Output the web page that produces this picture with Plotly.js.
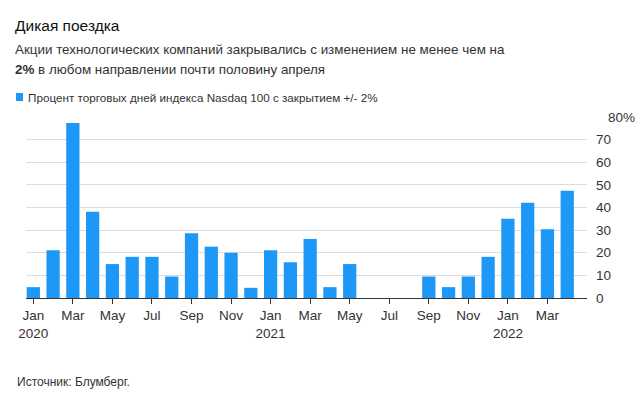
<!DOCTYPE html>
<html>
<head>
<meta charset="utf-8">
<script src="https://cdn.plot.ly/plotly-3.0.1.min.js"></script>
<style>
html,body{margin:0;padding:0;background:#fff;}
#chart{width:644px;height:396px;}
</style>
</head>
<body>
<div id="chart"></div>
<script>
const months = ["2020-01","2020-02","2020-03","2020-04","2020-05","2020-06","2020-07","2020-08","2020-09","2020-10","2020-11","2020-12",
"2021-01","2021-02","2021-03","2021-04","2021-05","2021-06","2021-07","2021-08","2021-09","2021-10","2021-11","2021-12",
"2022-01","2022-02","2022-03","2022-04"];
const pctDays = [4.8,21.1,77.3,38.1,15.0,18.2,18.2,9.5,28.6,22.7,20.0,4.5,
21.1,15.8,26.1,4.8,15.0,0,0,0,9.5,4.8,9.5,18.2,
35.0,42.1,30.4,47.4];
const xTickVals = ["2020-01","2020-03","2020-05","2020-07","2020-09","2020-11","2021-01","2021-03","2021-05","2021-07","2021-09","2021-11","2022-01","2022-03"];
const xTickText = ["Jan<br>2020","Mar","May","Jul","Sep","Nov","Jan<br>2021","Mar","May","Jul","Sep","Nov","Jan<br>2022","Mar"];
const yTickVals = [0,10,20,30,40,50,60,70,80];
const yTickText = ["0","10","20","30","40","50","60","70",""];
const seriesName = "Процент торговых дней индекса Nasdaq 100 с закрытием +/- 2%";

const FONT = "Liberation Sans, Arial, sans-serif";
const BLUE = "#1e98f6";
const PW = 561, PH = 181, ML = 26, MT = 117;
const px = v => (v - ML) / PW;
const py = v => 1 + (MT - v) / PH;

const trace = {
  type: "bar",
  x: months,
  y: pctDays,
  marker: {color: BLUE},
  name: seriesName,
  hoverinfo: "x+y"
};

const layout = {
  width: 644, height: 396,
  margin: {l: ML, r: 644 - ML - PW, t: MT, b: 396 - MT - PH},
  paper_bgcolor: "#fff", plot_bgcolor: "#fff",
  font: {family: FONT, color: "#333", size: 13},
  showlegend: false,
  bargap: 0.33,
  xaxis: {
    type: "category",
    categoryorder: "array",
    categoryarray: months,
    range: [-0.37, 28.0],
    tickmode: "array",
    tickvals: xTickVals,
    ticktext: xTickText,
    ticks: "outside",
    ticklen: 5,
    tickcolor: "#333",
    tickwidth: 1,
    showline: true,
    linecolor: "#333",
    linewidth: 1,
    showgrid: false,
    zeroline: false,
    tickfont: {family: FONT, size: 13.5, color: "#333"},
    fixedrange: true
  },
  yaxis: {
    side: "right",
    range: [0, 80],
    tickmode: "array",
    tickvals: yTickVals,
    ticktext: yTickText,
    showgrid: true,
    gridcolor: "#dcdcdc",
    gridwidth: 1,
    zeroline: false,
    showline: false,
    ticks: "",
    ticklabelstandoff: 8,
    tickfont: {family: FONT, size: 13.5, color: "#333"},
    fixedrange: true
  },
  annotations: [
    {xref: "paper", yref: "paper", x: px(13), y: py(26), xanchor: "left", yanchor: "middle",
     text: "Дикая поездка", showarrow: false, font: {family: FONT, size: 15.5, color: "#111"}},
    {xref: "paper", yref: "paper", x: px(13), y: py(49), xanchor: "left", yanchor: "middle",
     text: "Акции технологических компаний закрывались с изменением не менее чем на", showarrow: false,
     font: {family: FONT, size: 13.4, color: "#333"}},
    {xref: "paper", yref: "paper", x: px(13), y: py(69), xanchor: "left", yanchor: "middle",
     text: "<b>2%</b> в любом направлении почти половину апреля", showarrow: false,
     font: {family: FONT, size: 13.4, color: "#333"}},
    {xref: "paper", yref: "paper", x: px(26), y: py(97), xanchor: "left", yanchor: "middle",
     text: seriesName, showarrow: false,
     font: {family: FONT, size: 11.7, color: "#333"}},
    {xref: "paper", yref: "y", x: px(606), y: 80, xanchor: "left", yanchor: "middle",
     text: "80%", showarrow: false, font: {family: FONT, size: 13.5, color: "#333"}},
    {xref: "paper", yref: "paper", x: px(15), y: py(382), xanchor: "left", yanchor: "middle",
     text: "Источник: Блумберг.", showarrow: false, font: {family: FONT, size: 12, color: "#333"}}
  ],
  shapes: [
    {type: "rect", xref: "paper", yref: "paper",
     x0: px(16), x1: px(23), y0: py(93), y1: py(101),
     fillcolor: BLUE, line: {width: 0}}
  ]
};

Plotly.newPlot("chart", [trace], layout, {displayModeBar: false, staticPlot: true});
</script>
</body>
</html>
